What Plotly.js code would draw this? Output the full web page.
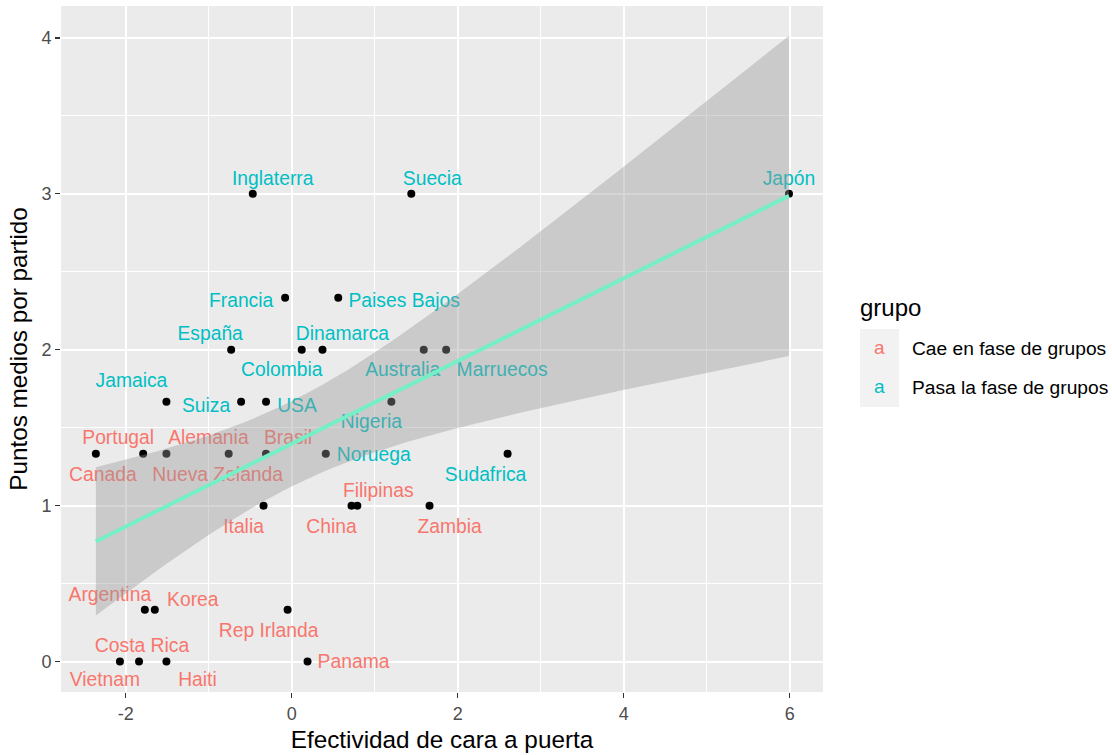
<!DOCTYPE html>
<html><head><meta charset="utf-8">
<script src="https://cdn.plot.ly/plotly-3.0.1.min.js"></script>
<style>body{margin:0;background:#fff}#chart{width:1112px;height:755px}</style>
</head><body><div id="chart"></div>
<script>
// ---- data ----
const teams = ["Japón","Suecia","Inglaterra","Francia","Paises Bajos","España","Colombia","Dinamarca","Australia","Marruecos",
  "Jamaica","Suiza","USA","Nigeria","Canada","Portugal","Alemania","Nueva Zelanda","Brasil","Noruega","Sudafrica",
  "Italia","China","Filipinas","Zambia","Argentina","Korea","Rep Irlanda","Vietnam","Costa Rica","Haiti","Panama"];
const efectividad = [5.99,1.44,-0.47,-0.08,0.56,-0.73,0.12,0.37,1.59,1.86,
  -1.51,-0.61,-0.31,1.20,-2.36,-1.79,-1.51,-0.76,-0.31,0.41,2.60,
  -0.34,0.72,0.79,1.66,-1.77,-1.65,-0.05,-2.07,-1.84,-1.51,0.19];
const puntos = [3,3,3,2.333,2.333,2,2,2,2,2,
  1.667,1.667,1.667,1.667,1.333,1.333,1.333,1.333,1.333,1.333,1.333,
  1,1,1,1,0.333,0.333,0.333,0,0,0,0];
const grupo = ["Pasa","Pasa","Pasa","Pasa","Pasa","Pasa","Pasa","Pasa","Pasa","Pasa",
  "Pasa","Pasa","Pasa","Pasa","Cae","Cae","Cae","Cae","Cae","Pasa","Pasa",
  "Cae","Cae","Cae","Cae","Cae","Cae","Cae","Cae","Cae","Cae","Cae"];
const groupKeys = ["Cae","Pasa"];
const groupNames = ["Cae en fase de grupos","Pasa la fase de grupos"];
const xTicks = [-2,0,2,4,6];
const yTicks = [0,1,2,3,4];

// ---- label placement (pixel offsets from each point, like ggrepel) ----
const labelDx = [0,21,20,-44,66,-21,-20,20,-21,56,
  -35,-35,31,-20,7,-25,42,-11,22,48,-22,
  -20,-20,21,20,-35,38,-19,-15,3,31,46];
const labelDy = [-15,-15,-15,3,3,-16,20,-16,20,20,
  -21,4,4,20,21,-16,-16,21,-16,1,21,
  21,21,-15,21,-15,-10,21,18,-16,18,0];
const labelShiftY = 1.5;

// ---- styles / layout geometry ----
const colors = {Cae:"#F8766D", Pasa:"#00BFC4"};
const M = {l:61, r:289, t:6, b:63};
const W = 1112 - M.l - M.r, H = 755 - M.t - M.b;
const xRange = [-2.78, 6.40], yRange = [-0.195, 4.205];
const dxPerPx = (xRange[1]-xRange[0]) / W;
const dyPerPx = (yRange[1]-yRange[0]) / H;
const FONT = "Liberation Sans, Arial, sans-serif";

// ---- linear fit with 95% CI (geom_smooth(method = "lm")) ----
const n = efectividad.length;
const xm = efectividad.reduce((a,b)=>a+b,0)/n;
const ym = puntos.reduce((a,b)=>a+b,0)/n;
let sxx=0, sxy=0;
for (let i=0;i<n;i++){ sxx += (efectividad[i]-xm)**2; sxy += (efectividad[i]-xm)*(puntos[i]-ym); }
const slope = sxy/sxx, icpt = ym - slope*xm;
let sse=0;
for (let i=0;i<n;i++){ sse += (puntos[i]-(icpt+slope*efectividad[i]))**2; }
const s = Math.sqrt(sse/(n-2));
const tq = 2.042; // t(0.975, df=30)
const xmin = Math.min(...efectividad), xmax = Math.max(...efectividad);
const fx=[], fy=[], lo=[], hi=[];
for (let k=0;k<=80;k++){
  const x = xmin + (xmax-xmin)*k/80;
  const yhat = icpt + slope*x;
  const se = s*Math.sqrt(1/n + (x-xm)**2/sxx);
  fx.push(x); fy.push(yhat); lo.push(yhat - tq*se); hi.push(yhat + tq*se);
}

// ---- traces ----
const points = {x:efectividad, y:puntos, mode:"markers", type:"scatter",
  marker:{color:"#000000", size:8}, hoverinfo:"text", text:teams, showlegend:false};
const labels = {x:efectividad.map((v,i)=>v + labelDx[i]*dxPerPx),
  y:puntos.map((v,i)=>v - (labelDy[i]+labelShiftY)*dyPerPx),
  mode:"text", type:"scatter", text:teams, textposition:"middle center",
  textfont:{family:FONT, size:19.3, color:grupo.map(g=>colors[g])},
  hoverinfo:"skip", showlegend:false};
const ribbon = {x:fx.concat(fx.slice().reverse()), y:hi.concat(lo.slice().reverse()),
  mode:"lines", type:"scatter", fill:"toself", fillcolor:"rgba(153,153,153,0.4)",
  line:{width:0}, hoverinfo:"skip", showlegend:false};
const fit = {x:fx, y:fy, mode:"lines", type:"scatter",
  line:{color:"#76EEC6", width:4}, hoverinfo:"skip", showlegend:false};

// ---- manual ggplot-style legend ----
const px2x = p => (p - M.l)/W;
const px2y = p => (755 - M.b - p)/H;
const shapes = [], annotations = [];
const keyTop = 329, keyH = 39;
groupKeys.forEach((g,i)=>{
  const y0 = keyTop + i*keyH;
  shapes.push({type:"rect", xref:"paper", yref:"paper", layer:"above",
    x0:px2x(860), x1:px2x(899), y0:px2y(y0), y1:px2y(y0+keyH),
    fillcolor:"#F2F2F2", line:{width:0}});
  annotations.push({xref:"paper", yref:"paper", x:px2x(879.5), y:px2y(y0+keyH/2-1),
    text:"a", showarrow:false, xanchor:"center", yanchor:"middle",
    font:{family:FONT, size:19, color:colors[g]}});
  annotations.push({xref:"paper", yref:"paper", x:px2x(910), y:px2y(y0+keyH/2),
    text:groupNames[i], showarrow:false, xanchor:"left", yanchor:"middle",
    font:{family:FONT, size:19.2, color:"#000000"}});
});
annotations.push({xref:"paper", yref:"paper", x:px2x(858), y:px2y(307),
  text:"grupo", showarrow:false, xanchor:"left", yanchor:"middle",
  font:{family:FONT, size:24, color:"#000000"}});

const layout = {
  width:1112, height:755, margin:M,
  paper_bgcolor:"#FFFFFF", plot_bgcolor:"#EBEBEB",
  font:{family:FONT},
  showlegend:false,
  xaxis:{range:xRange, tickvals:xTicks, ticktext:xTicks.map(String),
    showgrid:true, gridcolor:"#FFFFFF", gridwidth:2,
    minor:{dtick:1, tick0:-1, showgrid:true, gridcolor:"#FFFFFF", gridwidth:1},
    zeroline:false, showline:false,
    ticks:"outside", ticklen:5, tickwidth:1.2, tickcolor:"#333333",
    tickfont:{family:FONT, size:18, color:"#4D4D4D"},
    title:{text:"Efectividad de cara a puerta", font:{family:FONT, size:24.3, color:"#000000"}, standoff:8},
    automargin:false, fixedrange:true},
  yaxis:{range:yRange, tickvals:yTicks, ticktext:yTicks.map(String),
    showgrid:true, gridcolor:"#FFFFFF", gridwidth:2,
    minor:{dtick:0.5, tick0:0.5, showgrid:true, gridcolor:"#FFFFFF", gridwidth:1},
    zeroline:false, showline:false,
    ticks:"outside", ticklen:5, tickwidth:1.2, tickcolor:"#333333",
    tickfont:{family:FONT, size:18, color:"#4D4D4D"},
    title:{text:"Puntos medios por partido", font:{family:FONT, size:24.3, color:"#000000"}, standoff:6},
    automargin:false, fixedrange:true},
  shapes:shapes, annotations:annotations
};
Plotly.newPlot("chart", [points, labels, ribbon, fit], layout, {displayModeBar:false, staticPlot:true});
</script>
</body></html>
